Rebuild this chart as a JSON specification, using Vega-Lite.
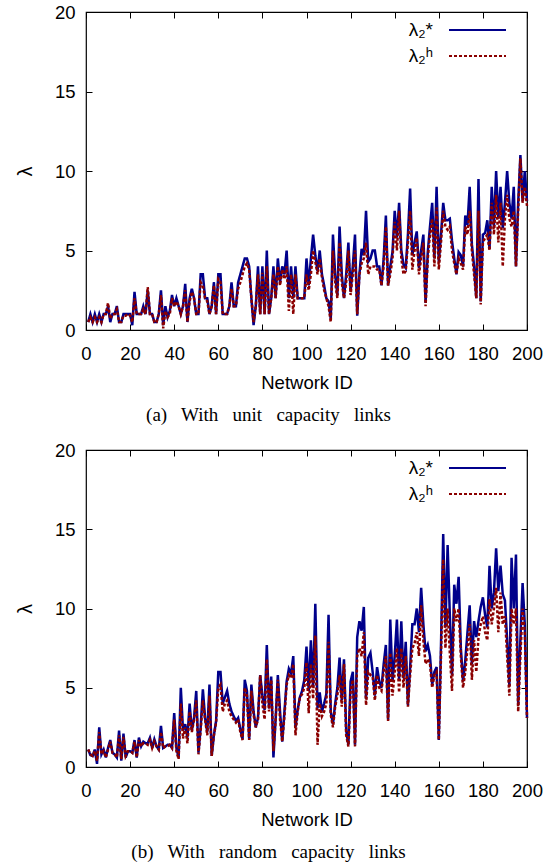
{
"$schema": "https://vega.github.io/schema/vega-lite/v6.json",
"background": "white",
"padding": {"left": 14, "top": 2, "right": 5, "bottom": 0},
"config": {"view": {"stroke": "black", "strokeWidth": 1.2}, "font": "Liberation Sans"},
"datasets": {
"a": [
{"x":1,"s":0.5,"h":0.5},{"x":2,"s":1.0,"h":0.8},{"x":3,"s":0.5,"h":0.5},{"x":4,"s":1.0,"h":0.8},{"x":5,"s":0.5,"h":0.5},
{"x":6,"s":1.0,"h":0.8},{"x":7,"s":0.5,"h":0.5},{"x":8,"s":1.0,"h":1.0},{"x":9,"s":1.0,"h":1.0},{"x":10,"s":1.5,"h":1.7},
{"x":11,"s":0.5,"h":0.7},{"x":12,"s":1.0,"h":1.0},{"x":13,"s":1.0,"h":1.0},{"x":14,"s":1.5,"h":1.3},{"x":15,"s":0.5,"h":0.5},
{"x":16,"s":0.5,"h":0.5},{"x":17,"s":1.0,"h":0.9},{"x":18,"s":1.0,"h":0.9},{"x":19,"s":1.0,"h":1.0},{"x":20,"s":1.0,"h":0.9},
{"x":21,"s":0.3,"h":0.5},{"x":22,"s":2.4,"h":2.0},{"x":23,"s":1.0,"h":1.0},{"x":24,"s":1.0,"h":1.0},{"x":25,"s":1.0,"h":1.0},
{"x":26,"s":1.5,"h":1.3},{"x":27,"s":1.0,"h":1.0},{"x":28,"s":2.5,"h":2.7},{"x":29,"s":1.0,"h":1.0},{"x":30,"s":1.0,"h":1.0},
{"x":31,"s":0.5,"h":0.5},{"x":32,"s":0.5,"h":0.5},{"x":33,"s":1.0,"h":1.0},{"x":34,"s":2.5,"h":2.2},{"x":35,"s":0.3,"h":0.1},
{"x":36,"s":1.5,"h":1.2},{"x":37,"s":0.8,"h":0.8},{"x":38,"s":1.2,"h":1.0},{"x":39,"s":2.2,"h":2.0},{"x":40,"s":1.5,"h":1.5},
{"x":41,"s":2.0,"h":1.8},{"x":42,"s":1.5,"h":1.5},{"x":43,"s":1.0,"h":1.0},{"x":44,"s":1.5,"h":1.5},{"x":45,"s":2.9,"h":2.5},
{"x":46,"s":0.5,"h":0.5},{"x":47,"s":2.0,"h":1.8},{"x":48,"s":2.6,"h":2.4},{"x":49,"s":2.0,"h":2.0},{"x":50,"s":1.0,"h":1.0},
{"x":51,"s":1.0,"h":1.0},{"x":52,"s":3.5,"h":3.0},{"x":53,"s":3.5,"h":2.8},{"x":54,"s":2.0,"h":2.0},{"x":55,"s":2.0,"h":1.8},
{"x":56,"s":1.0,"h":1.0},{"x":57,"s":1.5,"h":1.5},{"x":58,"s":3.0,"h":2.8},{"x":59,"s":1.0,"h":1.0},{"x":60,"s":3.5,"h":3.2},
{"x":61,"s":3.5,"h":3.0},{"x":62,"s":1.0,"h":1.0},{"x":63,"s":1.0,"h":1.0},{"x":64,"s":1.0,"h":1.0},{"x":65,"s":1.5,"h":1.5},
{"x":66,"s":3.0,"h":2.6},{"x":67,"s":1.5,"h":1.5},{"x":68,"s":1.5,"h":1.5},{"x":69,"s":3.0,"h":2.6},{"x":70,"s":3.5,"h":3.0},
{"x":71,"s":4.0,"h":3.5},{"x":72,"s":4.5,"h":4.0},{"x":73,"s":4.5,"h":4.2},{"x":74,"s":4.0,"h":3.8},{"x":75,"s":2.0,"h":2.0},
{"x":76,"s":0.3,"h":0.5},{"x":77,"s":1.5,"h":1.5},{"x":78,"s":4.0,"h":3.5},{"x":79,"s":1.0,"h":1.0},{"x":80,"s":4.0,"h":3.6},
{"x":81,"s":1.0,"h":1.0},{"x":82,"s":5.0,"h":4.0},{"x":83,"s":1.0,"h":1.0},{"x":84,"s":2.0,"h":2.0},{"x":85,"s":4.0,"h":3.5},
{"x":86,"s":2.0,"h":2.0},{"x":87,"s":4.5,"h":4.0},{"x":88,"s":3.0,"h":2.8},{"x":89,"s":4.0,"h":3.8},{"x":90,"s":3.5,"h":3.2},
{"x":91,"s":5.0,"h":4.0},{"x":92,"s":2.0,"h":1.2},{"x":93,"s":4.0,"h":3.5},{"x":94,"s":2.0,"h":1.0},{"x":95,"s":4.0,"h":3.5},
{"x":96,"s":2.0,"h":2.0},{"x":97,"s":2.0,"h":2.0},{"x":98,"s":2.0,"h":2.0},{"x":99,"s":2.0,"h":2.0},{"x":100,"s":4.5,"h":3.5},
{"x":101,"s":2.8,"h":2.5},{"x":102,"s":4.5,"h":3.5},{"x":103,"s":6.0,"h":5.0},{"x":104,"s":4.7,"h":4.3},{"x":105,"s":3.7,"h":3.5},
{"x":106,"s":5.0,"h":4.5},{"x":107,"s":3.5,"h":3.3},{"x":108,"s":2.8,"h":2.5},{"x":109,"s":2.0,"h":2.0},{"x":110,"s":1.8,"h":1.5},
{"x":111,"s":0.7,"h":0.5},{"x":112,"s":6.0,"h":5.0},{"x":113,"s":3.5,"h":3.0},{"x":114,"s":2.2,"h":2.0},{"x":115,"s":6.5,"h":5.5},
{"x":116,"s":3.5,"h":3.0},{"x":117,"s":2.0,"h":2.0},{"x":118,"s":3.5,"h":3.0},{"x":119,"s":5.5,"h":5.0},{"x":120,"s":2.4,"h":2.2},
{"x":121,"s":4.0,"h":3.5},{"x":122,"s":6.0,"h":5.0},{"x":123,"s":0.9,"h":1.0},{"x":124,"s":3.5,"h":3.5},{"x":125,"s":5.1,"h":4.2},
{"x":126,"s":4.7,"h":4.5},{"x":127,"s":7.5,"h":5.5},{"x":128,"s":4.3,"h":3.5},{"x":129,"s":4.5,"h":4.0},{"x":130,"s":5.0,"h":4.0},
{"x":131,"s":5.0,"h":4.0},{"x":132,"s":4.0,"h":3.8},{"x":133,"s":4.0,"h":3.8},{"x":134,"s":2.8,"h":2.8},{"x":135,"s":4.5,"h":4.0},
{"x":136,"s":7.2,"h":6.5},{"x":137,"s":2.8,"h":2.8},{"x":138,"s":4.0,"h":3.5},{"x":139,"s":4.9,"h":4.5},{"x":140,"s":7.5,"h":6.8},
{"x":141,"s":5.8,"h":5.0},{"x":142,"s":8.0,"h":7.5},{"x":143,"s":5.0,"h":4.5},{"x":144,"s":4.1,"h":3.5},{"x":145,"s":3.9,"h":3.7},
{"x":146,"s":6.0,"h":5.5},{"x":147,"s":8.9,"h":7.5},{"x":148,"s":4.7,"h":3.8},{"x":149,"s":5.5,"h":5.0},{"x":150,"s":6.2,"h":5.8},
{"x":151,"s":3.9,"h":3.5},{"x":152,"s":5.0,"h":4.5},{"x":153,"s":6.0,"h":5.5},{"x":154,"s":1.7,"h":1.5},{"x":155,"s":4.9,"h":4.5},
{"x":156,"s":6.5,"h":6.0},{"x":157,"s":8.0,"h":7.0},{"x":158,"s":4.5,"h":4.0},{"x":159,"s":9.0,"h":7.7},{"x":160,"s":4.3,"h":3.8},
{"x":161,"s":6.0,"h":5.5},{"x":162,"s":8.0,"h":7.5},{"x":163,"s":6.9,"h":6.5},{"x":164,"s":6.9,"h":6.3},{"x":165,"s":7.0,"h":6.5},
{"x":166,"s":5.6,"h":5.0},{"x":167,"s":4.5,"h":4.2},{"x":168,"s":3.5,"h":3.5},{"x":169,"s":4.9,"h":4.5},{"x":170,"s":4.7,"h":4.2},
{"x":171,"s":4.0,"h":3.8},{"x":172,"s":7.2,"h":6.5},{"x":173,"s":6.6,"h":6.0},{"x":174,"s":9.0,"h":7.5},{"x":175,"s":5.4,"h":5.0},
{"x":176,"s":4.0,"h":3.5},{"x":177,"s":2.0,"h":2.0},{"x":178,"s":9.5,"h":7.5},{"x":179,"s":1.8,"h":1.6},{"x":180,"s":6.0,"h":5.5},
{"x":181,"s":6.1,"h":5.8},{"x":182,"s":6.9,"h":6.0},{"x":183,"s":5.1,"h":5.0},{"x":184,"s":9.0,"h":8.0},{"x":185,"s":6.5,"h":6.0},
{"x":186,"s":10.0,"h":8.5},{"x":187,"s":7.0,"h":5.5},{"x":188,"s":9.0,"h":8.0},{"x":189,"s":6.4,"h":4.0},{"x":190,"s":8.0,"h":7.0},
{"x":191,"s":10.0,"h":8.5},{"x":192,"s":8.0,"h":7.0},{"x":193,"s":7.0,"h":6.5},{"x":194,"s":9.0,"h":7.5},{"x":195,"s":4.0,"h":4.0},
{"x":196,"s":8.0,"h":7.5},{"x":197,"s":11.0,"h":10.8},{"x":198,"s":8.1,"h":8.0},{"x":199,"s":10.0,"h":9.0},{"x":200,"s":8.1,"h":7.8}
],
"b": [
{"x":1,"s":1.1,"h":1.1},{"x":2,"s":0.75,"h":0.8},{"x":3,"s":0.7,"h":0.7},{"x":4,"s":1.1,"h":1.0},{"x":5,"s":0.2,"h":0.4},
{"x":6,"s":2.5,"h":2.2},{"x":7,"s":0.8,"h":0.8},{"x":8,"s":1.1,"h":1.0},{"x":9,"s":0.6,"h":0.6},{"x":10,"s":1.2,"h":1.1},
{"x":11,"s":1.7,"h":1.6},{"x":12,"s":0.9,"h":0.9},{"x":13,"s":0.8,"h":0.8},{"x":14,"s":0.6,"h":0.6},{"x":15,"s":2.3,"h":2.0},
{"x":16,"s":0.4,"h":0.5},{"x":17,"s":2.1,"h":1.9},{"x":18,"s":0.6,"h":0.7},{"x":19,"s":1.0,"h":1.0},{"x":20,"s":1.0,"h":1.0},
{"x":21,"s":0.9,"h":0.9},{"x":22,"s":1.7,"h":1.6},{"x":23,"s":0.6,"h":0.6},{"x":24,"s":1.85,"h":1.7},{"x":25,"s":1.3,"h":1.3},
{"x":26,"s":1.6,"h":1.5},{"x":27,"s":1.5,"h":1.5},{"x":28,"s":1.5,"h":1.4},{"x":29,"s":1.85,"h":1.7},{"x":30,"s":1.2,"h":1.2},
{"x":31,"s":1.75,"h":1.6},{"x":32,"s":1.3,"h":1.3},{"x":33,"s":1.1,"h":1.1},{"x":34,"s":2.6,"h":2.2},{"x":35,"s":1.2,"h":1.2},
{"x":36,"s":1.3,"h":1.3},{"x":37,"s":1.4,"h":1.3},{"x":38,"s":1.4,"h":1.4},{"x":39,"s":1.2,"h":1.2},{"x":40,"s":3.4,"h":3.0},
{"x":41,"s":1.2,"h":1.0},{"x":42,"s":0.6,"h":0.5},{"x":43,"s":5.0,"h":4.0},{"x":44,"s":2.3,"h":1.8},{"x":45,"s":2.7,"h":2.5},
{"x":46,"s":1.85,"h":1.5},{"x":47,"s":4.0,"h":3.5},{"x":48,"s":2.3,"h":2.2},{"x":49,"s":3.1,"h":3.0},{"x":50,"s":4.8,"h":4.2},
{"x":51,"s":0.9,"h":0.8},{"x":52,"s":2.5,"h":2.3},{"x":53,"s":4.9,"h":4.2},{"x":54,"s":3.1,"h":3.0},{"x":55,"s":2.2,"h":2.0},
{"x":56,"s":5.2,"h":4.5},{"x":57,"s":0.7,"h":0.7},{"x":58,"s":2.0,"h":2.0},{"x":59,"s":2.9,"h":2.8},{"x":60,"s":6.0,"h":5.0},
{"x":61,"s":6.0,"h":5.2},{"x":62,"s":4.0,"h":3.5},{"x":63,"s":4.4,"h":4.0},{"x":64,"s":4.8,"h":4.2},{"x":65,"s":4.0,"h":3.5},
{"x":66,"s":3.5,"h":3.2},{"x":67,"s":3.2,"h":3.0},{"x":68,"s":2.9,"h":2.8},{"x":69,"s":3.1,"h":3.0},{"x":70,"s":2.4,"h":2.2},
{"x":71,"s":1.75,"h":1.7},{"x":72,"s":5.5,"h":5.0},{"x":73,"s":4.8,"h":4.5},{"x":74,"s":1.75,"h":1.7},{"x":75,"s":5.2,"h":4.8},
{"x":76,"s":3.5,"h":3.3},{"x":77,"s":2.5,"h":2.5},{"x":78,"s":3.1,"h":3.0},{"x":79,"s":5.8,"h":5.8},{"x":80,"s":4.5,"h":4.0},
{"x":81,"s":3.6,"h":3.0},{"x":82,"s":7.7,"h":6.8},{"x":83,"s":3.7,"h":3.5},{"x":84,"s":5.7,"h":5.5},{"x":85,"s":0.6,"h":1.0},
{"x":86,"s":3.0,"h":3.0},{"x":87,"s":5.8,"h":5.5},{"x":88,"s":3.5,"h":3.0},{"x":89,"s":1.6,"h":1.6},{"x":90,"s":3.5,"h":3.2},
{"x":91,"s":5.4,"h":5.2},{"x":92,"s":6.2,"h":5.8},{"x":93,"s":5.9,"h":5.6},{"x":94,"s":7.0,"h":6.5},{"x":95,"s":2.5,"h":2.0},
{"x":96,"s":3.6,"h":3.5},{"x":97,"s":4.4,"h":4.4},{"x":98,"s":4.8,"h":4.6},{"x":99,"s":5.5,"h":5.0},{"x":100,"s":7.6,"h":6.6},
{"x":101,"s":4.8,"h":3.4},{"x":102,"s":8.0,"h":6.5},{"x":103,"s":5.1,"h":4.3},{"x":104,"s":10.3,"h":8.3},{"x":105,"s":3.7,"h":1.4},
{"x":106,"s":4.7,"h":4.0},{"x":107,"s":3.5,"h":3.2},{"x":108,"s":4.0,"h":3.5},{"x":109,"s":4.6,"h":4.0},{"x":110,"s":9.6,"h":7.9},
{"x":111,"s":3.5,"h":3.3},{"x":112,"s":2.7,"h":2.5},{"x":113,"s":4.0,"h":3.8},{"x":114,"s":5.0,"h":4.5},{"x":115,"s":6.9,"h":5.8},
{"x":116,"s":4.2,"h":3.8},{"x":117,"s":6.8,"h":6.5},{"x":118,"s":2.3,"h":2.0},{"x":119,"s":1.4,"h":1.3},{"x":120,"s":5.4,"h":4.8},
{"x":121,"s":6.0,"h":5.5},{"x":122,"s":1.4,"h":1.3},{"x":123,"s":8.2,"h":7.0},{"x":124,"s":9.2,"h":7.5},{"x":125,"s":8.6,"h":7.0},
{"x":126,"s":10.1,"h":8.5},{"x":127,"s":4.3,"h":3.9},{"x":128,"s":6.9,"h":6.0},{"x":129,"s":7.2,"h":5.8},{"x":130,"s":6.0,"h":5.7},
{"x":131,"s":4.5,"h":4.2},{"x":132,"s":6.3,"h":5.8},{"x":133,"s":5.4,"h":5.0},{"x":134,"s":5.0,"h":4.8},{"x":135,"s":6.5,"h":6.0},
{"x":136,"s":7.7,"h":7.0},{"x":137,"s":3.0,"h":2.9},{"x":138,"s":9.3,"h":7.2},{"x":139,"s":5.4,"h":4.5},{"x":140,"s":7.0,"h":6.0},
{"x":141,"s":9.3,"h":7.5},{"x":142,"s":5.5,"h":4.7},{"x":143,"s":9.2,"h":7.5},{"x":144,"s":5.6,"h":5.0},{"x":145,"s":7.9,"h":7.0},
{"x":146,"s":3.9,"h":3.8},{"x":147,"s":6.3,"h":5.8},{"x":148,"s":9.0,"h":7.5},{"x":149,"s":9.0,"h":7.8},{"x":150,"s":10.0,"h":8.5},
{"x":151,"s":8.5,"h":7.0},{"x":152,"s":11.3,"h":10.2},{"x":153,"s":9.0,"h":8.0},{"x":154,"s":7.3,"h":6.5},{"x":155,"s":7.7,"h":6.8},
{"x":156,"s":7.0,"h":6.5},{"x":157,"s":5.2,"h":5.0},{"x":158,"s":6.0,"h":5.8},{"x":159,"s":6.3,"h":6.0},{"x":160,"s":1.7,"h":1.7},
{"x":161,"s":7.7,"h":7.0},{"x":162,"s":14.7,"h":13.1},{"x":163,"s":8.8,"h":7.5},{"x":164,"s":14.0,"h":10.0},{"x":165,"s":9.6,"h":7.2},
{"x":166,"s":5.8,"h":4.8},{"x":167,"s":11.5,"h":10.0},{"x":168,"s":10.3,"h":9.2},{"x":169,"s":12.0,"h":10.0},{"x":170,"s":7.5,"h":7.0},
{"x":171,"s":5.4,"h":5.0},{"x":172,"s":6.7,"h":6.0},{"x":173,"s":8.5,"h":7.5},{"x":174,"s":10.2,"h":9.0},{"x":175,"s":6.5,"h":5.5},
{"x":176,"s":9.2,"h":8.0},{"x":177,"s":8.2,"h":6.0},{"x":178,"s":9.2,"h":8.2},{"x":179,"s":10.1,"h":9.0},{"x":180,"s":10.7,"h":9.5},
{"x":181,"s":9.6,"h":8.5},{"x":182,"s":8.8,"h":8.0},{"x":183,"s":12.7,"h":10.6},{"x":184,"s":10.0,"h":9.0},{"x":185,"s":11.0,"h":10.0},
{"x":186,"s":13.8,"h":11.3},{"x":187,"s":11.1,"h":8.5},{"x":188,"s":12.7,"h":11.0},{"x":189,"s":10.9,"h":9.0},{"x":190,"s":10.5,"h":9.5},
{"x":191,"s":8.0,"h":7.0},{"x":192,"s":5.1,"h":4.5},{"x":193,"s":13.2,"h":10.0},{"x":194,"s":10.0,"h":9.0},{"x":195,"s":13.4,"h":10.0},
{"x":196,"s":3.9,"h":3.5},{"x":197,"s":8.0,"h":7.0},{"x":198,"s":11.6,"h":10.0},{"x":199,"s":9.0,"h":8.5},{"x":200,"s":3.1,"h":3.1}
]
},
"spacing": 14,
"resolve": {"scale": {"color": "independent", "strokeDash": "independent"}, "legend": {"color": "independent", "strokeDash": "independent"}},
"vconcat": [
{
"width": 441, "height": 318,
"data": {"name": "a"},
"title": {"text": "(a)\u00a0\u00a0 With\u00a0\u00a0 unit\u00a0\u00a0 capacity\u00a0\u00a0 links", "orient": "bottom", "font": "Liberation Serif", "fontSize": 19, "fontWeight": "normal", "color": "black", "offset": 14, "dx": -38},
"transform": [{"fold": ["s", "h"], "as": ["series", "value"]}],
"layer": [
{"mark": {"type": "line", "strokeWidth": 2.5},
 "encoding": {
  "x": {"field": "x", "type": "quantitative", "scale": {"domain": [0, 200], "nice": false},
        "axis": {"orient": "bottom", "values": [0,20,40,60,80,100,120,140,160,180,200], "tickSize": -6, "tickColor": "black", "domain": false, "grid": false, "labelFont": "Liberation Sans", "labelFontSize": 18.5, "labelColor": "black", "labelPadding": 20, "labelFlush": false, "labelOverlap": false, "title": "Network ID", "titleFont": "Liberation Sans", "titleFontSize": 18.5, "titleFontWeight": "normal", "titleColor": "black", "titlePadding": 11}},
  "y": {"field": "value", "type": "quantitative", "scale": {"domain": [0, 20], "nice": false},
        "axis": {"orient": "left", "values": [0,5,10,15,20], "tickSize": -6, "tickColor": "black", "domain": false, "grid": false, "labelFont": "Liberation Sans", "labelFontSize": 18.5, "labelColor": "black", "labelPadding": 17, "labelFlush": false, "labelOverlap": false, "title": "λ", "titleFont": "Liberation Sans", "titleFontSize": 20, "titleFontWeight": "normal", "titleColor": "black", "titlePadding": 19}},
  "color": {"field": "series", "type": "nominal", "sort": ["s", "h"], "scale": {"domain": ["s", "h"], "range": ["#00008b", "#8b0000"]},
        "legend": {"orient": "none", "legendX": 376, "legendY": 2.5, "title": null, "symbolType": "M-2,0H2", "symbolSize": 812, "symbolStrokeWidth": 2, "labelFont": "Liberation Sans", "labelFontSize": 19, "labelColor": "black", "labelAlign": "right", "labelOffset": -60, "rowPadding": -2.5, "labelExpr": "datum.label == 's' ? 'λ₂*' : 'λ₂ʰ'"}},
  "strokeDash": {"field": "series", "type": "nominal", "sort": ["s", "h"], "scale": {"domain": ["s", "h"], "range": [[1, 0], [3, 2]]},
        "legend": {"orient": "none", "legendX": 376, "legendY": 2.5, "title": null, "symbolType": "M-2,0H2", "symbolSize": 812, "symbolStrokeWidth": 2, "labelFont": "Liberation Sans", "labelFontSize": 19, "labelColor": "black", "labelAlign": "right", "labelOffset": -60, "rowPadding": -2.5, "labelExpr": "datum.label == 's' ? 'λ₂*' : 'λ₂ʰ'"}}
 }},
{"mark": {"type": "line", "strokeOpacity": 0},
 "encoding": {
  "x": {"field": "x", "type": "quantitative", "axis": {"orient": "top", "values": [0,20,40,60,80,100,120,140,160,180,200], "tickSize": -6, "tickColor": "black", "domain": false, "grid": false, "labels": false, "title": null}},
  "y": {"field": "value", "type": "quantitative", "axis": {"orient": "right", "values": [0,5,10,15,20], "tickSize": -6, "tickColor": "black", "domain": false, "grid": false, "labels": false, "title": null}}
 }}
]
},
{
"width": 441, "height": 317,
"data": {"name": "b"},
"title": {"text": "(b)\u00a0\u00a0 With\u00a0\u00a0 random\u00a0\u00a0 capacity\u00a0\u00a0 links", "orient": "bottom", "font": "Liberation Serif", "fontSize": 19, "fontWeight": "normal", "color": "black", "offset": 14, "dx": -38},
"transform": [{"fold": ["s", "h"], "as": ["series", "value"]}],
"layer": [
{"mark": {"type": "line", "strokeWidth": 2.5},
 "encoding": {
  "x": {"field": "x", "type": "quantitative", "scale": {"domain": [0, 200], "nice": false},
        "axis": {"orient": "bottom", "values": [0,20,40,60,80,100,120,140,160,180,200], "tickSize": -6, "tickColor": "black", "domain": false, "grid": false, "labelFont": "Liberation Sans", "labelFontSize": 18.5, "labelColor": "black", "labelPadding": 20, "labelFlush": false, "labelOverlap": false, "title": "Network ID", "titleFont": "Liberation Sans", "titleFontSize": 18.5, "titleFontWeight": "normal", "titleColor": "black", "titlePadding": 11}},
  "y": {"field": "value", "type": "quantitative", "scale": {"domain": [0, 20], "nice": false},
        "axis": {"orient": "left", "values": [0,5,10,15,20], "tickSize": -6, "tickColor": "black", "domain": false, "grid": false, "labelFont": "Liberation Sans", "labelFontSize": 18.5, "labelColor": "black", "labelPadding": 17, "labelFlush": false, "labelOverlap": false, "title": "λ", "titleFont": "Liberation Sans", "titleFontSize": 20, "titleFontWeight": "normal", "titleColor": "black", "titlePadding": 19}},
  "color": {"field": "series", "type": "nominal", "sort": ["s", "h"], "scale": {"domain": ["s", "h"], "range": ["#00008b", "#8b0000"]},
        "legend": {"orient": "none", "legendX": 376, "legendY": 2.5, "title": null, "symbolType": "M-2,0H2", "symbolSize": 812, "symbolStrokeWidth": 2, "labelFont": "Liberation Sans", "labelFontSize": 19, "labelColor": "black", "labelAlign": "right", "labelOffset": -60, "rowPadding": -2.5, "labelExpr": "datum.label == 's' ? 'λ₂*' : 'λ₂ʰ'"}},
  "strokeDash": {"field": "series", "type": "nominal", "sort": ["s", "h"], "scale": {"domain": ["s", "h"], "range": [[1, 0], [3, 2]]},
        "legend": {"orient": "none", "legendX": 376, "legendY": 2.5, "title": null, "symbolType": "M-2,0H2", "symbolSize": 812, "symbolStrokeWidth": 2, "labelFont": "Liberation Sans", "labelFontSize": 19, "labelColor": "black", "labelAlign": "right", "labelOffset": -60, "rowPadding": -2.5, "labelExpr": "datum.label == 's' ? 'λ₂*' : 'λ₂ʰ'"}}
 }},
{"mark": {"type": "line", "strokeOpacity": 0},
 "encoding": {
  "x": {"field": "x", "type": "quantitative", "axis": {"orient": "top", "values": [0,20,40,60,80,100,120,140,160,180,200], "tickSize": -6, "tickColor": "black", "domain": false, "grid": false, "labels": false, "title": null}},
  "y": {"field": "value", "type": "quantitative", "axis": {"orient": "right", "values": [0,5,10,15,20], "tickSize": -6, "tickColor": "black", "domain": false, "grid": false, "labels": false, "title": null}}
 }}
]
}
]
}
